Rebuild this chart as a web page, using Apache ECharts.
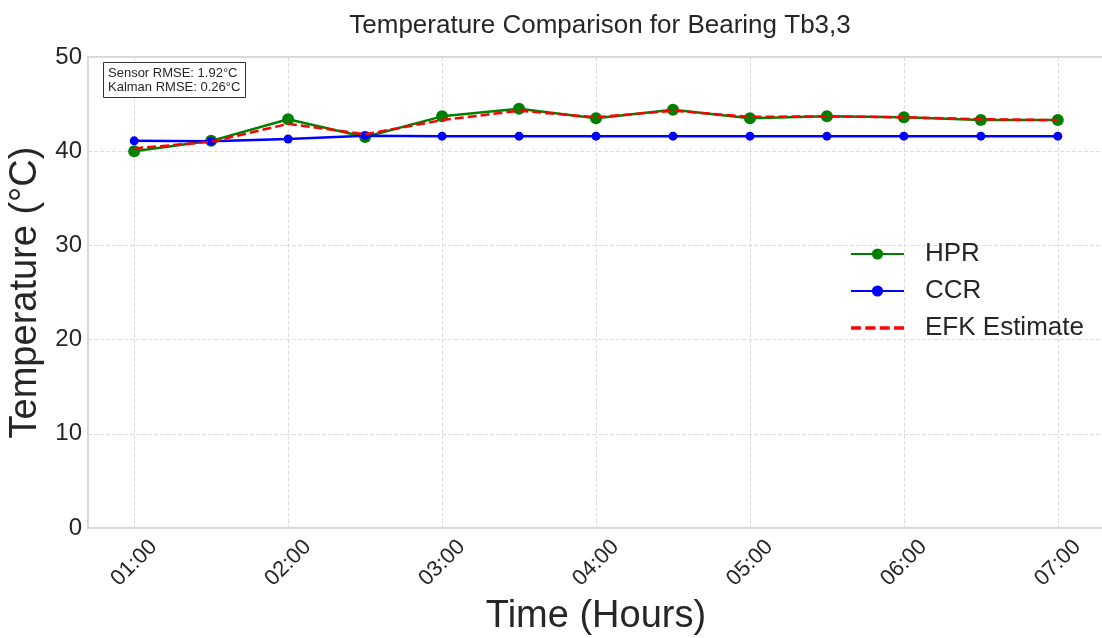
<!DOCTYPE html>
<html>
<head>
<meta charset="utf-8">
<script src="https://cdn.jsdelivr.net/npm/echarts@6/dist/echarts.min.js"></script>
<style>
    html, body { margin: 0; padding: 0; background: #fff; }
    #main { width: 1102px; height: 638px; }
</style>
</head>
<body>
<div id="main"></div>
<script>
    // time in hours
    var hours = [1, 1.5, 2, 2.5, 3, 3.5, 4, 4.5, 5, 5.5, 6, 6.5, 7];
    var hourTicks = [1, 2, 3, 4, 5, 6, 7];
    var hprValues = [40.0, 41.1, 43.4, 41.5, 43.7, 44.5, 43.5, 44.4, 43.5, 43.7, 43.6, 43.3, 43.3];
    var ccrValues = [41.1, 41.05, 41.3, 41.65, 41.6, 41.6, 41.6, 41.6, 41.6, 41.6, 41.6, 41.6, 41.6];
    var efkValues = [40.3, 41.0, 42.9, 41.8, 43.3, 44.3, 43.6, 44.3, 43.65, 43.7, 43.6, 43.4, 43.3];
    var rmseText = ['Sensor RMSE: 1.92°C', 'Kalman RMSE: 0.26°C'];

    var FONT = 'Arial, "Liberation Sans", sans-serif';
    // dashed line icon for the legend
    var DASH_ICON = 'path://M0,0h9v3H0z M13,0h9v3h-9z M26,0h9v3h-9z M39,0h9v3h-9z';

    function pairs(vals) {
        return hours.map(function (h, i) { return [h, vals[i]]; });
    }

    function fmtHour(v) {
        var hh = Math.floor(v);
        var mm = Math.round((v - hh) * 60);
        return (hh < 10 ? '0' : '') + hh + ':' + (mm < 10 ? '0' : '') + mm;
    }

    var myChart = echarts.init(document.getElementById('main'));
    var option = {
        backgroundColor: '#ffffff',
        animation: false,
        textStyle: { fontFamily: FONT },
        title: [{
            text: 'Temperature Comparison for Bearing Tb3,3',
            left: 595,
            textAlign: 'center',
            top: 8,
            textStyle: { fontSize: 26, fontWeight: 'normal', color: '#262626', fontFamily: FONT }
        }, {
            text: rmseText.join('\n'),
            left: 103,
            top: 62,
            padding: [4, 5, 4, 5],
            borderWidth: 1,
            borderColor: '#333',
            backgroundColor: '#fff',
            textStyle: { fontSize: 13, fontWeight: 'normal', color: '#262626', lineHeight: 14, fontFamily: FONT }
        }],
        legend: {
            orient: 'vertical',
            left: 850,
            top: 241,
            padding: 0,
            itemWidth: 53,
            itemHeight: 14,
            itemGap: 11,
            textStyle: { fontSize: 26, lineHeight: 26, color: '#262626', padding: [0, 0, 0, 16], fontFamily: FONT },
            data: ['HPR', 'CCR', { name: 'EFK Estimate', icon: DASH_ICON }]
        },
        grid: {
            left: 88,
            right: -2,
            top: 57,
            bottom: 110,
            outerBoundsMode: 'none',
            containLabel: false,
            show: true,
            borderColor: '#cccccc',
            borderWidth: 1.5
        },
        xAxis: {
            type: 'value',
            min: 0.7,
            max: 7.3,
            name: 'Time (Hours)',
            nameLocation: 'middle',
            nameGap: 68,
            nameTextStyle: { fontSize: 38, color: '#262626', fontFamily: FONT },
            axisLine: { show: false },
            axisTick: { show: false, customValues: hourTicks },
            axisLabel: {
                customValues: hourTicks,
                rotate: 45,
                align: 'center',
                verticalAlign: 'middle',
                fontSize: 22,
                color: '#262626',
                margin: 35,
                formatter: function (v) { return fmtHour(v); }
            },
            splitLine: { show: true, lineStyle: { color: '#dddddd', type: 'dashed', width: 1 } }
        },
        yAxis: {
            type: 'value',
            min: 0,
            max: 50,
            interval: 10,
            name: 'Temperature (°C)',
            nameLocation: 'middle',
            nameGap: 34,
            nameTextStyle: { fontSize: 38, color: '#262626', fontFamily: FONT },
            axisLine: { show: false },
            axisTick: { show: false },
            axisLabel: { fontSize: 24, color: '#262626', margin: 6 },
            splitLine: { show: true, lineStyle: { color: '#dddddd', type: 'dashed', width: 1 } }
        },
        series: [{
            name: 'HPR',
            type: 'line',
            data: pairs(hprValues),
            color: '#008000',
            symbol: 'circle',
            symbolSize: 12,
            lineStyle: { width: 2.5, color: '#008000' },
            itemStyle: { color: '#008000' },
            z: 2
        }, {
            name: 'CCR',
            type: 'line',
            data: pairs(ccrValues),
            color: '#0000ff',
            symbol: 'circle',
            symbolSize: 9,
            lineStyle: { width: 2.5, color: '#0000ff' },
            itemStyle: { color: '#0000ff' },
            z: 3
        }, {
            name: 'EFK Estimate',
            type: 'line',
            data: pairs(efkValues),
            color: '#ff0000',
            symbol: 'none',
            lineStyle: { width: 2.5, color: '#ff0000', type: [9, 4] },
            itemStyle: { color: '#ff0000' },
            z: 4
        }]
    };
    myChart.setOption(option, true);
</script>
</body>
</html>
